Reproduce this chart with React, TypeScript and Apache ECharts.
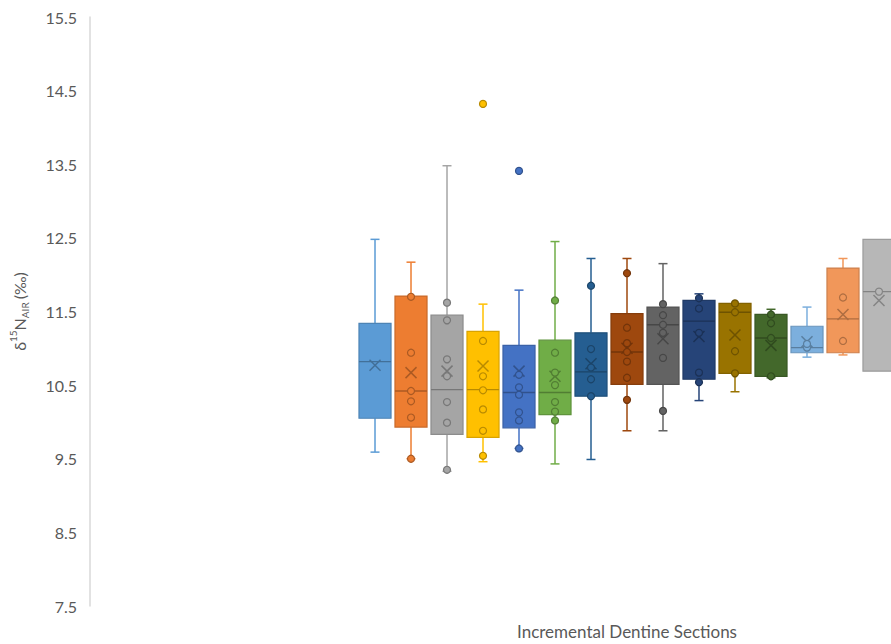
import React, { useEffect, useRef } from 'react';
import * as echarts from 'echarts';

const sections = ['S1', 'S2', 'S3', 'S4', 'S5', 'S6', 'S7', 'S8', 'S9', 'S10', 'S11', 'S12', 'S13', 'S14', 'S15'];
const colors = ['#5B9BD5', '#ED7D31', '#A5A5A5', '#FFC000', '#4472C4', '#70AD47', '#255E91', '#9E480E', '#636363', '#264478', '#997300', '#43682B', '#7CAFDD', '#F1975A', '#B7B7B7'];
const whiskerLow = [9.59, 9.50, 9.33, 9.46, 9.64, 9.43, 9.49, 9.88, 9.88, 10.29, 10.41, 10.60, 10.88, 10.91, 10.69];
const quartile1 = [10.05, 9.93, 9.83, 9.79, 9.92, 10.10, 10.35, 10.51, 10.51, 10.58, 10.66, 10.62, 10.94, 10.94, 10.69];
const medians = [10.82, 10.42, 10.44, 10.44, 10.40, 10.40, 10.68, 10.95, 11.32, 11.37, 11.49, 11.14, 11.01, 11.40, 11.77];
const quartile3 = [11.34, 11.71, 11.45, 11.23, 11.04, 11.11, 11.21, 11.47, 11.56, 11.65, 11.61, 11.46, 11.30, 12.09, 12.48];
const whiskerHigh = [12.48, 12.17, 13.48, 11.60, 11.79, 12.45, 12.22, 12.22, 12.15, 11.74, 11.61, 11.53, 11.56, 12.22, 12.48];
const means = [10.77, 10.67, 10.69, 10.76, 10.69, 10.62, 10.79, 11.00, 11.13, 11.16, 11.18, 11.04, 11.09, 11.46, 11.65];
const points = [
  [],
  [9.50, 10.06, 10.28, 10.42, 10.94, 11.70],
  [9.35, 9.99, 10.27, 10.62, 10.85, 11.38, 11.62],
  [9.54, 9.88, 10.17, 10.43, 10.62, 11.10, 14.32],
  [9.64, 10.02, 10.13, 10.37, 10.47, 10.64, 13.41],
  [10.02, 10.14, 10.27, 10.50, 10.67, 10.94, 11.65],
  [10.35, 10.58, 10.74, 10.99, 11.85],
  [10.30, 10.60, 10.82, 10.95, 11.07, 11.28, 12.02],
  [10.15, 10.87, 11.21, 11.32, 11.45, 11.60],
  [10.54, 10.67, 11.21, 11.54, 11.68],
  [10.66, 10.96, 11.49, 11.61],
  [10.62, 11.14, 11.34, 11.46],
  [11.01, 11.06],
  [11.10, 11.69],
  [11.77],
];
const yTicks = { min: 7.5, max: 15.5, interval: 1 };
const xTitle = 'Incremental Dentine Sections';

function shade(hex: string, f: number): string {
  const n = parseInt(hex.slice(1), 16);
  const r = Math.round(((n >> 16) & 255) * f);
  const g = Math.round(((n >> 8) & 255) * f);
  const b = Math.round((n & 255) * f);
  return 'rgb(' + r + ',' + g + ',' + b + ')';
}

export default function App() {
  const ref = useRef<HTMLDivElement>(null);
  useEffect(() => {
    const chart = echarts.init(ref.current!, null, { renderer: 'svg' });
    const font = 'Lato, "Open Sans", sans-serif';
    const series: any[] = [];
    sections.forEach((name, i) => {
      const col = colors[i];
      const dark = shade(col, 0.72);
      series.push({
        type: 'custom',
        name,
        z: 2,
        data: [[i, whiskerLow[i], quartile1[i], medians[i], quartile3[i], whiskerHigh[i], means[i]]],
        renderItem: (params: any, api: any) => {
          const x = api.value(0);
          const lo = api.value(1), q1 = api.value(2), med = api.value(3), q3 = api.value(4), hi = api.value(5), mean = api.value(6);
          const unit = api.size([1, 0])[0];
          const bw = unit * 0.89;
          const cap = 9;
          const xs = 5.5;
          const p = (v: number) => api.coord([x, v]);
          const [cx, yLo] = p(lo);
          const yQ1 = p(q1)[1], yMed = p(med)[1], yQ3 = p(q3)[1], yHi = p(hi)[1], yMean = p(mean)[1];
          const wStyle = { stroke: col, lineWidth: 1.5 };
          const children: any[] = [];
          if (hi > q3) {
            children.push({ type: 'line', shape: { x1: cx, y1: yQ3, x2: cx, y2: yHi }, style: wStyle });
            children.push({ type: 'line', shape: { x1: cx - cap / 2, y1: yHi, x2: cx + cap / 2, y2: yHi }, style: wStyle });
          }
          if (lo < q1) {
            children.push({ type: 'line', shape: { x1: cx, y1: yQ1, x2: cx, y2: yLo }, style: wStyle });
            children.push({ type: 'line', shape: { x1: cx - cap / 2, y1: yLo, x2: cx + cap / 2, y2: yLo }, style: wStyle });
          }
          children.push({ type: 'rect', shape: { x: cx - bw / 2, y: yQ3, width: bw, height: yQ1 - yQ3 }, style: { fill: col, stroke: shade(col, 0.85), lineWidth: 1.2 } });
          children.push({ type: 'line', shape: { x1: cx - bw / 2, y1: yMed, x2: cx + bw / 2, y2: yMed }, style: { stroke: dark, lineWidth: 1.3 } });
          children.push({ type: 'line', shape: { x1: cx - xs, y1: yMean - xs, x2: cx + xs, y2: yMean + xs }, style: { stroke: dark, lineWidth: 1.5 } });
          children.push({ type: 'line', shape: { x1: cx - xs, y1: yMean + xs, x2: cx + xs, y2: yMean - xs }, style: { stroke: dark, lineWidth: 1.5 } });
          return { type: 'group', children };
        },
      });
      series.push({
        type: 'scatter',
        name: name + ' points',
        z: 3,
        symbol: 'circle',
        symbolSize: 7,
        itemStyle: { color: col, borderColor: dark, borderWidth: 1.2, opacity: 1 },
        data: points[i].map((v) => [i, v]),
      });
    });
    chart.setOption({
      animation: false,
      backgroundColor: '#ffffff',
      grid: { left: 90, top: 17, width: 1074, height: 589, containLabel: false, outerBoundsMode: 'none' },
      xAxis: {
        type: 'value',
        min: -7.917,
        max: 21.917,
        axisLine: { show: false },
        axisTick: { show: false },
        axisLabel: { show: false },
        splitLine: { show: false },
        name: xTitle,
        nameLocation: 'middle',
        nameGap: 17,
        nameTextStyle: { color: '#595959', fontSize: 17, fontFamily: font },
      },
      yAxis: {
        type: 'value',
        min: yTicks.min,
        max: yTicks.max,
        interval: yTicks.interval,
        axisLine: { show: true, onZero: false, lineStyle: { color: '#D9D9D9', width: 1.5 } },
        axisTick: { show: false },
        splitLine: { show: false },
        axisLabel: { color: '#595959', fontSize: 16, fontFamily: font, margin: 13, formatter: (v: number) => v.toFixed(1) },
        name: '{n|δ}{sup|15}{n|N}{sub|AIR}{n|(‰)}',
        nameLocation: 'middle',
        nameRotate: 90,
        nameGap: 60,
        nameTextStyle: {
          color: '#595959',
          fontFamily: font,
          rich: {
            n: { fontSize: 16, color: '#595959', fontFamily: font, lineHeight: 22, verticalAlign: 'middle' },
            sup: { fontSize: 10, color: '#595959', fontFamily: font, lineHeight: 22, verticalAlign: 'top' },
            sub: { fontSize: 10, color: '#595959', fontFamily: font, lineHeight: 22, verticalAlign: 'bottom', padding: [0, 3, 0, 0] },
          },
        },
      },
      series,
    });
    return () => chart.dispose();
  }, []);
  return (
    <div
      ref={ref}
      style={{ position: 'fixed', left: 0, top: 0, width: 891, height: 644, overflow: 'hidden', background: '#fff' }}
    />
  );
}
